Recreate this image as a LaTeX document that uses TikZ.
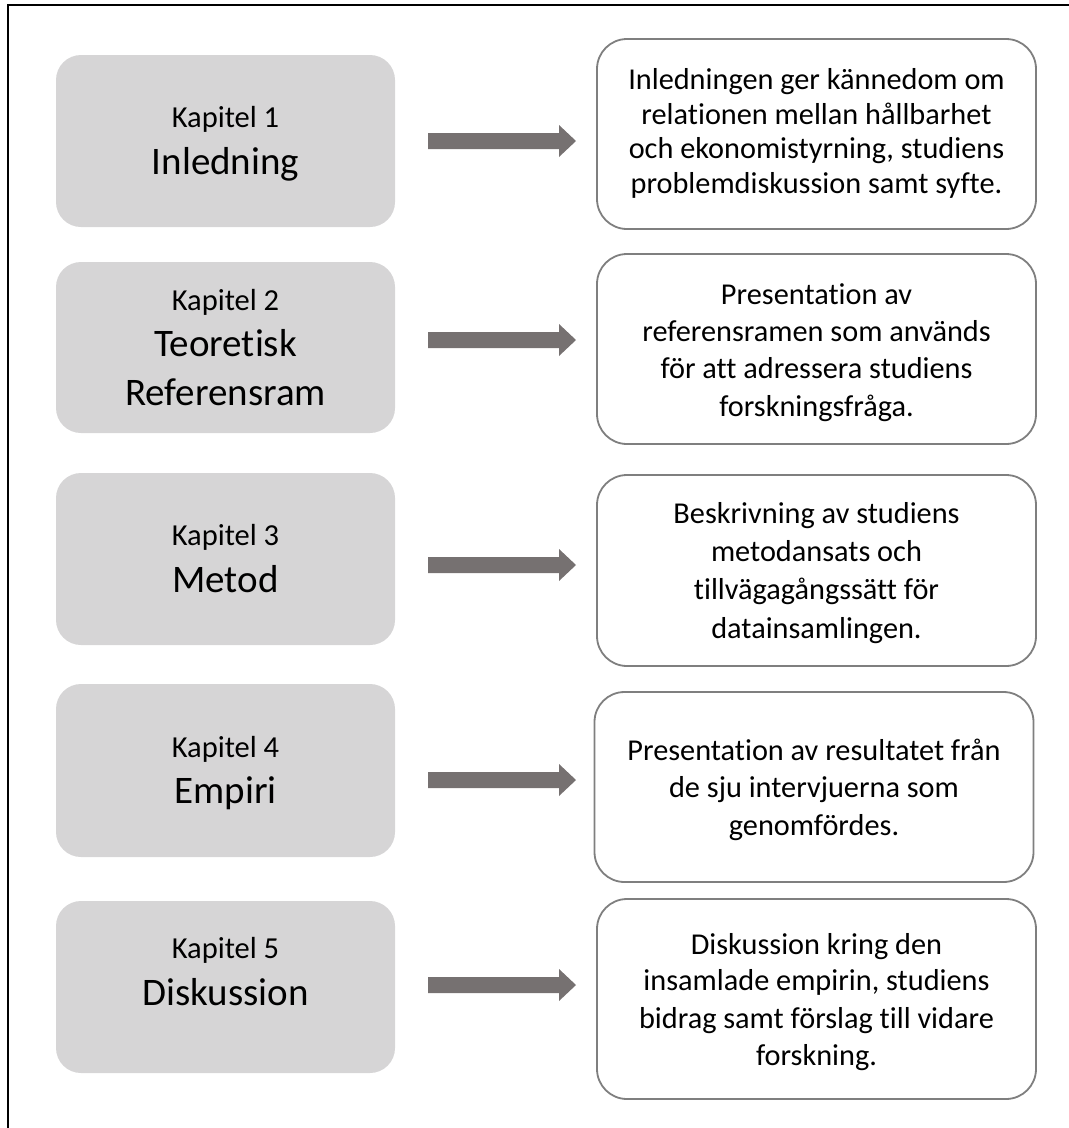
\documentclass[tikz,border=0pt]{standalone}
\usepackage{fontspec}
\setmainfont{Carlito}[Ligatures={NoCommon}]
\definecolor{boxgray}{RGB}{214,213,214}
\definecolor{arrowgray}{RGB}{118,113,113}
\definecolor{edgegray}{RGB}{127,127,127}
\tikzset{
  chapbox/.style={fill=boxgray, draw=none, rounded corners=25pt, minimum width=339pt, inner sep=0pt},
  descbox/.style={draw=edgegray, line width=1.8pt, fill=white, rounded corners=30pt, minimum width=439pt, inner sep=0pt},
  kap/.style={anchor=base, inner sep=0pt, font=\fontsize{30.5}{36}\selectfont},
  ttl/.style={anchor=base, inner sep=0pt, font=\fontsize{39}{46}\selectfont},
  dsc/.style={anchor=base, inner sep=0pt, font=\fontsize{30.3}{36}\selectfont},
  blockarrow/.style={fill=arrowgray, draw=none},
  frame/.style={draw=black, line width=2pt}
}
\begin{document}
\begin{tikzpicture}[x=1pt, y=-1pt]
\useasboundingbox (0,0) rectangle (1069,1128);
% outer frame (left and top edges only visible)
\coordinate (fbl) at (8,1130);
\coordinate (ftl) at (8,5);
\coordinate (ftr) at (1071,5);
\draw[frame] (fbl) -- (ftl) -- (ftr);

% chapter boxes
\node[chapbox, minimum height=172pt] (k1) at (225.5,141) {};
\node[chapbox, minimum height=171pt] (k2) at (225.5,347.5) {};
\node[chapbox, minimum height=172pt] (k3) at (225.5,559) {};
\node[chapbox, minimum height=173pt] (k4) at (225.5,770.5) {};
\node[chapbox, minimum height=172pt] (k5) at (225.5,987) {};

\node[kap] (k1a) at (225.5,127) {Kapitel 1};
\node[ttl] (k1b) at (225.5,174) {Inledning};
\node[kap] (k2a) at (225.5,310) {Kapitel 2};
\node[ttl] (k2b) at (225.5,356) {Teoretisk};
\node[ttl] (k2c) at (225.5,405) {Referensram};
\node[kap] (k3a) at (225.5,545) {Kapitel 3};
\node[ttl] (k3b) at (225.5,592) {Metod};
\node[kap] (k4a) at (225.5,757) {Kapitel 4};
\node[ttl] (k4b) at (225.5,803) {Empiri};
\node[kap] (k5a) at (225.5,958) {Kapitel 5};
\node[ttl] (k5b) at (225.5,1005) {Diskussion};

% description boxes
\node[descbox, minimum height=190pt] (d1) at (816.5,134) {};
\node[descbox, minimum height=190pt] (d2) at (816.5,349) {};
\node[descbox, minimum height=191pt] (d3) at (816.5,570.5) {};
\node[descbox, minimum height=190pt] (d4) at (814,787) {};
\node[descbox, minimum height=200pt] (d5) at (816.5,999) {};

\node[dsc] (d1a) at (816.5,89.3) {Inledningen ger kännedom om};
\node[dsc] (d1b) at (816.5,124) {relationen mellan hållbarhet};
\node[dsc] (d1c) at (816.5,158.5) {och ekonomistyrning, studiens};
\node[dsc] (d1d) at (816.5,193.3) {problemdiskussion samt syfte.};

\node[dsc] (d2a) at (816.5,304) {Presentation av};
\node[dsc] (d2b) at (816.5,341) {referensramen som används};
\node[dsc] (d2c) at (816.5,378.5) {för att adressera studiens};
\node[dsc] (d2d) at (816.5,416.5) {forskningsfråga.};

\node[dsc] (d3a) at (816.5,523.3) {Beskrivning av studiens};
\node[dsc] (d3b) at (816.5,561.5) {metodansats och};
\node[dsc] (d3c) at (816.5,599.5) {tillvägagångssätt för};
\node[dsc] (d3d) at (816.5,638) {datainsamlingen.};

\node[dsc] (d4a) at (814,760) {Presentation av resultatet från};
\node[dsc] (d4b) at (814,797.5) {de sju intervjuerna som};
\node[dsc] (d4c) at (814,835) {genomfördes.};

\node[dsc] (d5a) at (816.5,954) {Diskussion kring den};
\node[dsc] (d5b) at (816.5,990.7) {insamlade empirin, studiens};
\node[dsc] (d5c) at (816.5,1028.3) {bidrag samt förslag till vidare};
\node[dsc] (d5d) at (816.5,1065.7) {forskning.};

% block arrows (tail coordinates)
\coordinate (a1) at (428,141);
\coordinate (a2) at (428,340);
\coordinate (a3) at (428,565);
\coordinate (a4) at (428,780);
\coordinate (a5) at (428,985);
\foreach \a in {a1,a2,a3,a4,a5}{
  \fill[blockarrow] (\a) ++(0,-8) -- ++(131,0) -- ++(0,-8) -- ++(17,16) -- ++(-17,16) -- ++(0,-8) -- ++(-131,0) -- cycle;
}
\end{tikzpicture}
\end{document}
